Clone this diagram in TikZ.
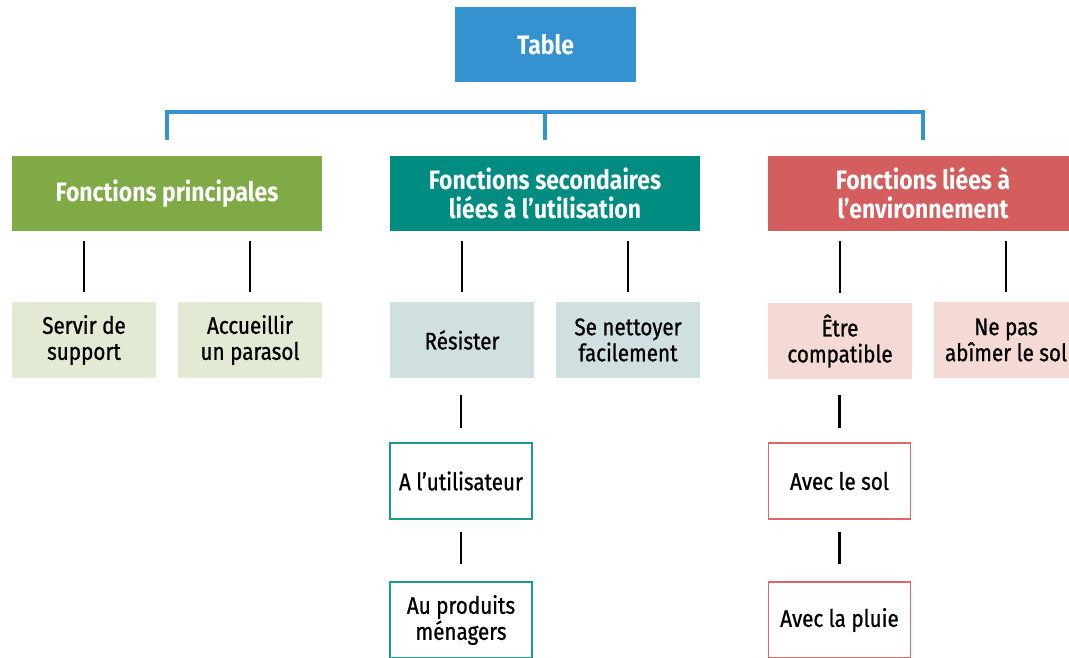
\documentclass[tikz,border=0pt]{standalone}
\usepackage{fontspec}
\setmainfont{Fira Sans}[FakeStretch=0.86]
\newfontfamily\medfont{Fira Sans}[FakeStretch=0.86, FakeBold=0.9]
\definecolor{cblue}{HTML}{3592D0}
\definecolor{cgreen}{HTML}{7FAA45}
\definecolor{cteal}{HTML}{008C80}
\definecolor{cred}{HTML}{D45D5D}
\definecolor{lgreen}{HTML}{E2EAD4}
\definecolor{lteal}{HTML}{D0E0E0}
\definecolor{lpink}{HTML}{F5D9D4}
\definecolor{oteal}{HTML}{1A9A8F}
\definecolor{ored}{HTML}{E06666}
\tikzset{
  head/.style={inner sep=0pt, minimum height=56.25pt, text=white, align=center, font=\fontsize{20}{21.75}\selectfont\bfseries},
  leaf/.style={inner sep=0pt, minimum width=108pt, minimum height=57pt, text=black, align=center, font=\fontsize{18}{19.5}\selectfont\medfont},
  sub/.style={leaf, draw, line width=1.1pt, minimum width=106.5pt},
  bline/.style={line width=2.6pt, cblue},
  kline/.style={line width=1.6pt, black}
}
\begin{document}
\begin{tikzpicture}[x=0.75pt,y=-0.75pt]
\useasboundingbox (0,0) rectangle (1069,657);
\clip (0,0) rectangle (1069,657);
% top
\node[head, fill=cblue, minimum width=135.75pt, font=\fontsize{20}{20}\selectfont\bfseries] (t) at (545.5,44.5) {Table};
\node[head, fill=cgreen, minimum width=232.5pt] (fp) at (167,193.5) {Fonctions principales};
\node[head, fill=cteal, minimum width=232.5pt] (fs) at (545,193.5) {Fonctions secondaires\\liées à l’utilisation};
\node[head, fill=cred, minimum width=232.5pt] (fe) at (923,193.5) {Fonctions liées à\\l’environnement};
% bracket
\coordinate (b1) at (167,140);
\coordinate (b2) at (545,140);
\coordinate (b3) at (923,140);
\draw[bline] (b1) -- (b1 |- 0,112) -- (b3 |- 0,112) -- (b3);
\draw[bline] (b2) -- (b2 |- 0,112);
% second row
\node[leaf, fill=lgreen] (s1) at (84,340) {Servir de\\support};
\node[leaf, fill=lgreen] (s2) at (250,340) {Accueillir\\un parasol};
\node[leaf, fill=lteal] (s3) at (462,340) {Résister};
\node[leaf, fill=lteal] (s4) at (628,340) {Se nettoyer\\facilement};
\node[leaf, fill=lpink] (s5) at (840,341) {Être\\compatible};
\node[leaf, fill=lpink] (s6) at (1006,340) {Ne pas\\abîmer le sol};
\foreach \n in {s1,s2,s3,s4,s5,s6}{
  \draw[kline] ([yshift=7.5pt]\n.north) -- ([yshift=-7.5pt]\n.north |- fp.south);
}
% third / fourth rows
\node[sub, draw=oteal] (u1) at (461,481) {A l’utilisateur};
\node[sub, draw=oteal] (u2) at (461,620) {Au produits\\ménagers};
\node[sub, draw=ored] (e1) at (839.5,481) {Avec le sol};
\node[sub, draw=ored] (e2) at (839.5,620) {Avec la pluie};
\draw[kline] ([yshift=-12.75pt]s3.south -| u1) -- ([yshift=10.5pt]u1.north);
\draw[kline] ([yshift=-9pt]u1.south) -- ([yshift=12.75pt]u2.north);
\draw[kline] ([yshift=-12pt]s5.south -| e1) -- ([yshift=10.5pt]e1.north);
\draw[kline] ([yshift=-9pt]e1.south) -- ([yshift=12.75pt]e2.north);
\end{tikzpicture}
\end{document}
